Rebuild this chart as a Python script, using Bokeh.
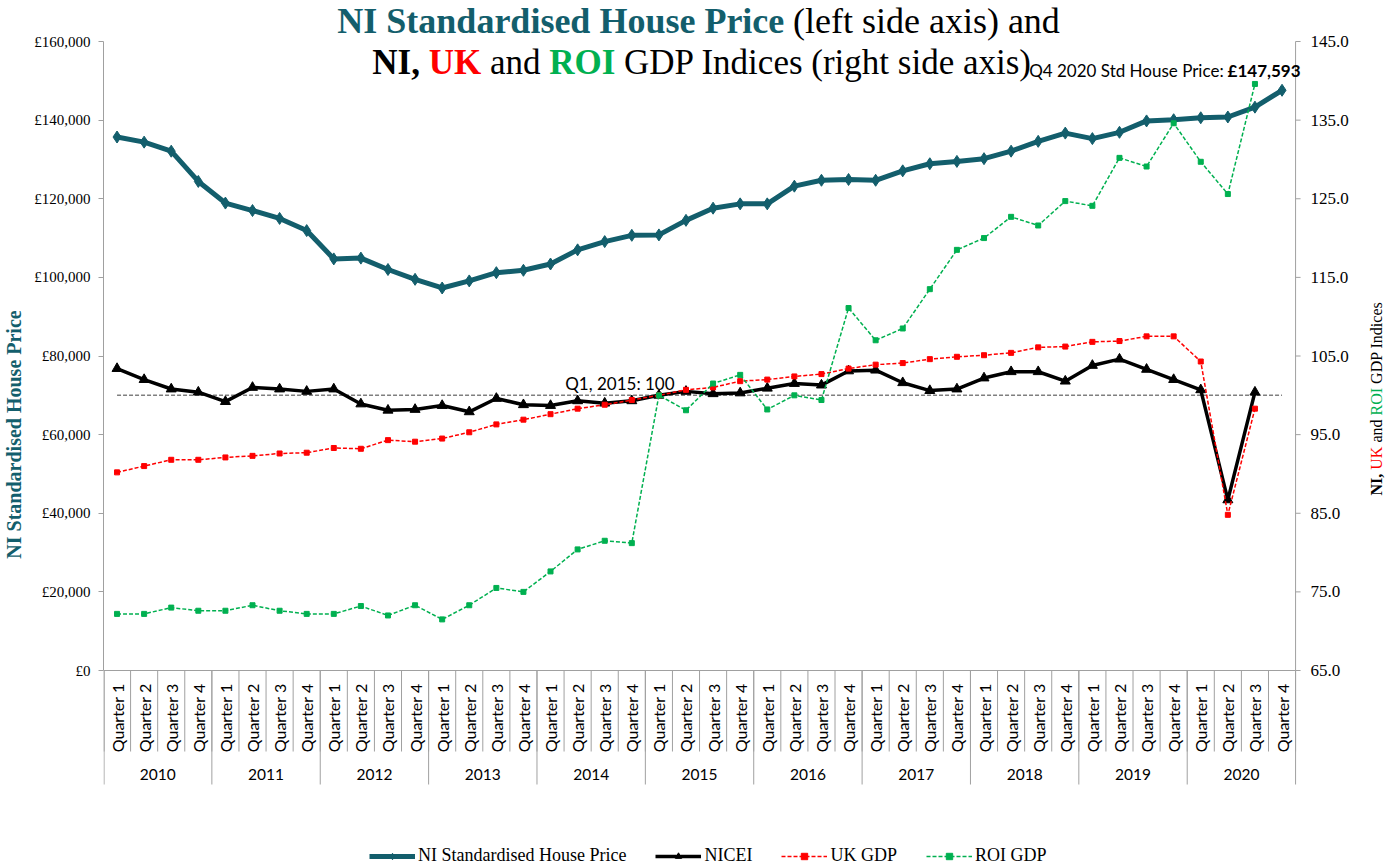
import math
from bokeh.plotting import figure
from bokeh.models import Range1d, FixedTicker, Legend, LegendItem
from bokeh.core.properties import value
from bokeh.embed import file_html
from bokeh.resources import INLINE

NAN = float("nan")

# ---------------- data ----------------
years = ["2010", "2011", "2012", "2013", "2014", "2015", "2016", "2017", "2018", "2019", "2020"]
quarter_names = ["Quarter 1", "Quarter 2", "Quarter 3", "Quarter 4"]
categories = [(y, q) for y in years for q in quarter_names]

house_price = [135700, 134400, 132100, 124400,
               118900, 117000, 115000, 111900,
               104700, 104900, 102000, 99500,
               97300, 99100, 101200, 101800,
               103400, 107000, 109100, 110700,
               110800, 114500, 117600, 118700,
               118700, 123200, 124700, 124900,
               124700, 127100, 128900, 129500,
               130200, 132100, 134600, 136700,
               135300, 136900, 139800, 140100,
               140600, 140800, 143300, 147593]

nicei = [103.4, 102.0, 100.8, 100.4,
         99.2, 101.0, 100.8, 100.5,
         100.8, 98.9, 98.1, 98.2,
         98.7, 97.9, 99.6, 98.8,
         98.7, 99.3, 99.0, 99.3,
         100.0, 100.5, 100.2, 100.3,
         100.9, 101.5, 101.3, 103.1,
         103.2, 101.6, 100.6, 100.8,
         102.2, 103.0, 103.0, 101.8,
         103.8, 104.6, 103.3, 102.0,
         100.7, 86.7, 100.4, NAN]

uk_gdp = [90.2, 91.0, 91.8, 91.8,
          92.1, 92.3, 92.6, 92.7,
          93.3, 93.2, 94.3, 94.1,
          94.5, 95.3, 96.3, 96.9,
          97.6, 98.3, 98.8, 99.4,
          100.0, 100.7, 101.0, 101.8,
          102.0, 102.4, 102.7, 103.4,
          103.9, 104.1, 104.6, 104.9,
          105.1, 105.4, 106.1, 106.2,
          106.8, 106.9, 107.5, 107.5,
          104.3, 84.8, 98.3, NAN]

roi_gdp = [72.2, 72.2, 73.0, 72.6,
           72.6, 73.3, 72.6, 72.2,
           72.2, 73.2, 72.0, 73.3,
           71.5, 73.3, 75.5, 75.0,
           77.6, 80.4, 81.5, 81.2,
           100.0, 98.1, 101.5, 102.6,
           98.2, 100.0, 99.4, 111.1,
           107.0, 108.5, 113.5, 118.5,
           120.0, 122.7, 121.6, 124.7,
           124.1, 130.2, 129.1, 134.6,
           129.7, 125.6, 139.6, NAN]

base_index = [100.0] * len(categories)   # Q1 2015 = 100 reference line

left_ticks = [0, 20000, 40000, 60000, 80000, 100000, 120000, 140000, 160000]
left_tick_labels = ["£0", "£20,000", "£40,000", "£60,000", "£80,000",
                    "£100,000", "£120,000", "£140,000", "£160,000"]
right_ticks = [65, 75, 85, 95, 105, 115, 125, 135, 145]
right_tick_labels = ["65.0", "75.0", "85.0", "95.0", "105.0", "115.0", "125.0", "135.0", "145.0"]

series_names = ["NI Standardised House Price", "NICEI", "UK GDP", "ROI GDP"]
latest_label = "Q4 2020 Std House Price:"
latest_value = "£147,593"
base_label = "Q1, 2015: 100"

# ---------------- layout helpers (page pixels -> data) ----------------
N = len(categories)
W, H = 1396, 868
FRAME_L, AXIS_R = 102, 1295          # plot-area left / right (right axis line)
TOP, ZERO = 41, 670                  # pixel rows of 160,000 / 145.0 and of 0 / 65.0
FRAME_BOTTOM = H
LMAX, RMIN, RMAX = 160000, 65, 145


def lx(px):
    return (px - FRAME_L) * N / (AXIS_R - FRAME_L)


def ly(py):
    return LMAX - (py - TOP) * LMAX / (ZERO - TOP)


def ry(py):
    return RMAX - (py - TOP) * (RMAX - RMIN) / (ZERO - TOP)


TEAL = "#135E6C"
RED = "#FF0000"
GREEN = "#00B050"
GREY = "#A0A0A0"
SERIF = "Liberation Serif"
SANS = "Lato"
# (ascent - descent) / 2 per font, to place text by its baseline using "middle"
HALF = {SERIF: 0.3375, SANS: 0.387}

p = figure(width=W, height=H, title=None,
           x_range=Range1d(lx(FRAME_L), lx(W)), y_range=Range1d(ly(FRAME_BOTTOM), ly(0)),
           min_border_left=FRAME_L, min_border_right=0,
           min_border_top=0, min_border_bottom=0,
           x_axis_location=None, y_axis_location="left",
           output_backend="svg", toolbar_location=None,
           outline_line_color=None, background_fill_color="white", border_fill_color="white")
p.grid.visible = False
p.extra_y_ranges = {"gdp": Range1d(ry(FRAME_BOTTOM), ry(0))}

# left axis (Bokeh axis)
ya = p.yaxis[0]
ya.ticker = FixedTicker(ticks=left_ticks)
ya.major_label_overrides = {float(t): s for t, s in zip(left_ticks, left_tick_labels)}
ya.bounds = (left_ticks[0], left_ticks[-1])
ya.axis_line_color = GREY
ya.major_tick_line_color = GREY
ya.major_tick_out = 5
ya.major_tick_in = 0
ya.minor_tick_line_color = None
ya.major_label_standoff = 8
ya.major_label_text_font = SERIF
ya.major_label_text_font_size = "15px"
ya.major_label_text_color = "black"
ya.axis_label = series_names[0]
ya.axis_label_text_font = SERIF
ya.axis_label_text_font_size = "20px"
ya.axis_label_text_font_style = "bold"
ya.axis_label_text_color = TEAL
ya.axis_label_standoff = 6


def add_text(text, px, py, size, font=SERIF, bold=False, color="black", align="left",
             angle=0.0, baseline=True):
    """Place text; py is the baseline row (page pixels); for rotated text px is the baseline column."""
    if baseline:
        if angle == 0.0:
            py = py - HALF[font] * size
        else:
            px = px - HALF[font] * size
    p.text(x=[lx(px)], y=[ly(py)], text=[text], angle=angle,
           text_font=value(font), text_font_size=value(f"{size}px"),
           text_font_style="bold" if bold else "normal", text_color=color,
           text_align=align, text_baseline="middle")


# right axis (drawn with the secondary scale)
p.segment(x0=[N], y0=[right_ticks[0]], x1=[N], y1=[right_ticks[-1]],
          y_range_name="gdp", line_color=GREY, line_width=1)
p.segment(x0=[N] * len(right_ticks), y0=right_ticks, x1=[lx(AXIS_R + 5)] * len(right_ticks),
          y1=right_ticks, y_range_name="gdp", line_color=GREY, line_width=1)
p.text(x=[lx(AXIS_R + 15)] * len(right_ticks), y=right_ticks, text=right_tick_labels,
       y_range_name="gdp", text_font=value(SERIF), text_font_size=value("17px"),
       text_color="black", text_align="left", text_baseline="middle")

# ---------------- category axis ----------------
xs = [i + 0.5 for i in range(N)]
p.segment(x0=[0], y0=[0], x1=[N], y1=[0], line_color=GREY, line_width=1)
bounds_x = [float(i) for i in range(N + 1)]
bounds_x[0] += 0.02
p.segment(x0=bounds_x, y0=[0] * len(bounds_x), x1=bounds_x, y1=[ly(751)] * len(bounds_x),
          line_color=GREY, line_width=1)
year_x = bounds_x[::4]
p.segment(x0=year_x, y0=[0] * len(year_x), x1=year_x, y1=[ly(784)] * len(year_x),
          line_color=GREY, line_width=1)
p.text(x=xs, y=[ly(683)] * N, text=[q for (_, q) in categories], angle=math.pi / 2,
       text_align="right", text_baseline="middle", text_font=value(SANS),
       text_font_size=value("16px"), text_color="black")
p.text(x=[4 * k + 2 for k in range(len(years))], y=[ly(774)] * len(years), text=years,
       text_align="center", text_baseline="middle", text_font=value(SANS),
       text_font_size=value("15.5px"), text_color="black")

# ---------------- series ----------------
hp_l = p.line(xs, house_price, line_color=TEAL, line_width=5)
hp_m = p.scatter(xs, house_price, marker="diamond", size=12, color=TEAL)
p.line(xs, base_index, y_range_name="gdp", line_color="#7F7F7F", line_width=1.5, line_dash="4 2")
ni_l = p.line(xs, nicei, y_range_name="gdp", line_color="black", line_width=3.5)
ni_m = p.scatter(xs, nicei, y_range_name="gdp", marker="triangle", size=10, color="black")
uk_l = p.line(xs, uk_gdp, y_range_name="gdp", line_color=RED, line_width=1.5, line_dash="4 2")
uk_m = p.scatter(xs, uk_gdp, y_range_name="gdp", marker="square", size=5, color=RED)
roi_l = p.line(xs, roi_gdp, y_range_name="gdp", line_color=GREEN, line_width=1.5, line_dash="4 2")
roi_m = p.scatter(xs, roi_gdp, y_range_name="gdp", marker="square", size=5, color=GREEN)

legend = Legend(items=[LegendItem(label=series_names[0], renderers=[hp_l, hp_m]),
                       LegendItem(label=series_names[1], renderers=[ni_l, ni_m]),
                       LegendItem(label=series_names[2], renderers=[uk_l, uk_m]),
                       LegendItem(label=series_names[3], renderers=[roi_l, roi_m])],
                orientation="horizontal", location=(266, 2),
                glyph_width=46, glyph_height=16, label_standoff=3, spacing=29,
                padding=0, margin=0, border_line_color=None, background_fill_alpha=0,
                label_text_font=SERIF, label_text_font_size="18px", label_text_color="black")
p.add_layout(legend)

# ---------------- texts ----------------
# title line 1
add_text("NI Standardised House Price", 336, 33, 36, bold=True, color=TEAL)
add_text("(left side axis) and", 792, 33, 36)
# title line 2
add_text("NI,", 371, 74, 35, bold=True)
add_text("UK", 427.4, 74, 35, bold=True, color=RED)
add_text("and", 488.7, 74, 35)
add_text("ROI", 548, 74, 35, bold=True, color=GREEN)
add_text("GDP Indices (right side axis)", 622.9, 74, 35)

# latest value callout
add_text(latest_label, 1223, 76.5, 17, font=SANS, align="right")
add_text(latest_value, 1300, 76.5, 17, font=SANS, bold=True, align="right")

# base line label
add_text(base_label, 673.5, 390, 17, font=SANS, align="right")

# right axis title (reads bottom to top; px = baseline column)
A = math.pi / 2
add_text("NI,", 1381, 495, 16, bold=True, angle=A)
add_text("UK", 1381, 469.2, 16, color=RED, angle=A)
add_text("and", 1381, 442.1, 16, angle=A)
add_text("ROI", 1381, 415, 16, color=GREEN, angle=A)
add_text("GDP Indices", 1381, 383.4, 16, angle=A)

open("out.html", "w").write(file_html(p, INLINE))
